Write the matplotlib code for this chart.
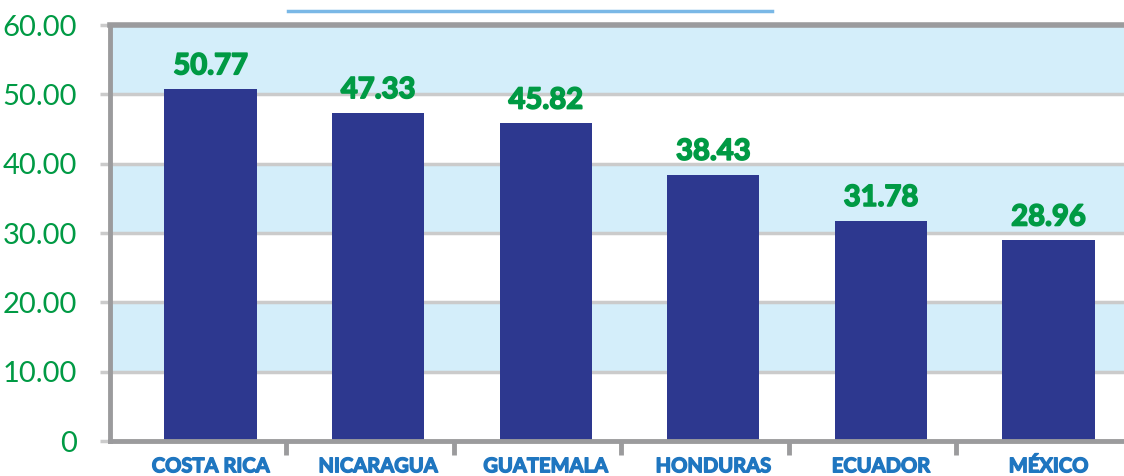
import matplotlib.pyplot as plt
import matplotlib.patheffects as pe
from matplotlib.lines import Line2D
import numpy as np

paises = ["COSTA RICA", "NICARAGUA", "GUATEMALA", "HONDURAS", "ECUADOR", "MÉXICO"]
valores = [50.77, 47.33, 45.82, 38.43, 31.78, 28.96]
yticks = [0, 10, 20, 30, 40, 50, 60]
ytick_labels = ["0", "10.00", "20.00", "30.00", "40.00", "50.00", "60.00"]

verde = "#009a44"
azul_bar = "#2d388f"
azul_txt = "#1f76c0"
banda = "#d4eefa"
gris = "#9b9b9d"
gris_claro = "#cbcbcb"

plt.rcParams['font.family'] = ['Lato', 'DejaVu Sans']

fig = plt.figure(figsize=(11.24, 4.76), dpi=100)
ax = fig.add_axes([110 / 1124, 1 - 441 / 476, 1 - 110 / 1124, (441 - 25) / 476])

x = np.arange(len(paises))
ax.set_xlim(-0.6, 5.45)
ax.set_ylim(0, 60)

# franjas celestes
for lo in [10, 30, 50]:
    ax.axhspan(lo, lo + 10, color=banda, zorder=0, lw=0)
for g in [10, 20, 30, 40, 50]:
    ax.axhline(g, color=gris_claro, lw=2.5, zorder=1)

barras = ax.bar(x, valores, width=0.55, color=azul_bar, zorder=2)
etiquetas = ax.bar_label(barras, labels=["%.2f" % v for v in valores], padding=7,
                         color=verde, fontsize=21, fontweight='bold')
for t in etiquetas:
    t.set_path_effects([pe.withStroke(linewidth=1.2, foreground=verde)])

ax.spines['right'].set_visible(False)
ax.spines['top'].set_color(gris)
ax.spines['top'].set_linewidth(4)
ax.spines['left'].set_color(gris)
ax.spines['left'].set_linewidth(3.5)
ax.spines['bottom'].set_color(gris)
ax.spines['bottom'].set_linewidth(3.5)

ax.set_yticks(yticks)
ax.set_yticklabels(ytick_labels)
ax.tick_params(axis='y', length=7, width=2.5, color=gris_claro, pad=17,
               labelcolor=verde, labelsize=21)

ax.set_xticks(x)
ax.set_xticklabels(paises)
ax.tick_params(axis='x', which='major', length=0, pad=11, labelcolor=azul_txt,
               labelsize=14.5)
for t in ax.get_xticklabels():
    t.set_fontweight('bold')
    t.set_path_effects([pe.withStroke(linewidth=1.0, foreground=azul_txt)])
ax.set_xticks(x[:-1] + 0.45, minor=True)
ax.tick_params(axis='x', which='minor', length=10, width=3.5, color=gris)

# linea del titulo (el texto queda fuera de la imagen)
fig.add_artist(Line2D([288 / 1124, 772 / 1124], [1 - 11 / 476, 1 - 11 / 476],
                      color="#7ab8e6", lw=2.5))

fig.savefig("out.png", dpi=100)
